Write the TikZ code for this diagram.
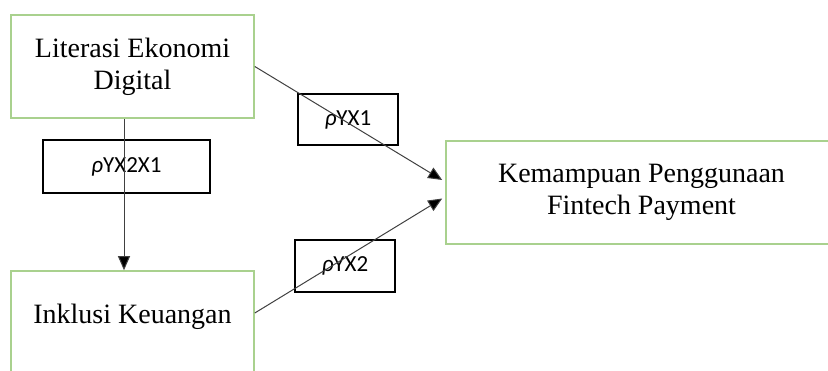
\documentclass[tikz,border=0pt]{standalone}
\usepackage{fontspec}
\setmainfont{Liberation Serif}
\newfontfamily\labelfont{Carlito}
\usepackage{tikz}
\usetikzlibrary{positioning, shapes, arrows.meta}
\definecolor{boxgreen}{RGB}{169, 209, 142}
\definecolor{linegray}{RGB}{64, 64, 64}
\newcommand{\coeftext}[1]{\raisebox{-2.5pt}{\textit{ρ}#1}}

\begin{document}
\begin{tikzpicture}[
        x=0.5pt, y=-0.5pt,
        every node/.style={align=center, inner sep=0pt},
        varbox/.style={rectangle, draw=boxgreen, line width=0.8pt, minimum width=121.5pt, minimum height=51.5pt, font=\fontsize{14}{16}\selectfont},
        coef/.style={rectangle, draw=black, line width=0.6pt, minimum width=50pt, minimum height=25.5pt, font=\labelfont\fontsize{11.5}{13}\selectfont},
        arrow/.style={-{Triangle[length=7pt, width=6pt, fill=black]}, draw=linegray, line width=0.5pt}
    ]
    \useasboundingbox (0,0) rectangle (828,370);
    \clip (0,0) rectangle (828,370);

    % Variables
    \node[varbox] (literasi) at (132.5,66.5) {Literasi Ekonomi\\Digital};
    \node[varbox, minimum height=58.5pt] (inklusi) at (132.5,329.5) {Inklusi Keuangan\\ \mbox{}};
    \node[varbox, minimum width=195.5pt] (fintech) at (641.5,192.5) {Kemampuan Penggunaan\\Fintech Payment};

    % Coefficients
    \node[coef] (pyx1) at (348,119.5) {\coeftext{YX1}};
    \node[coef, minimum height=26pt] (pyx2) at (345,266) {\coeftext{YX2}};
    \node[coef, minimum width=83.5pt, minimum height=26.5pt] (pyx2x1) at (126.5,166.5) {\coeftext{YX2X1}};

    % Arrows
    \draw[arrow] ([xshift=-4.25pt]literasi.south) -- ([xshift=-4.25pt]inklusi.north);
    \draw[arrow] (literasi.east) -- ([xshift=-1.5pt, yshift=6.25pt]fintech.west);
    \draw[arrow] ([yshift=8.25pt]inklusi.east) -- ([xshift=-1.5pt, yshift=-3pt]fintech.west);

    \end{tikzpicture}
\end{document}
